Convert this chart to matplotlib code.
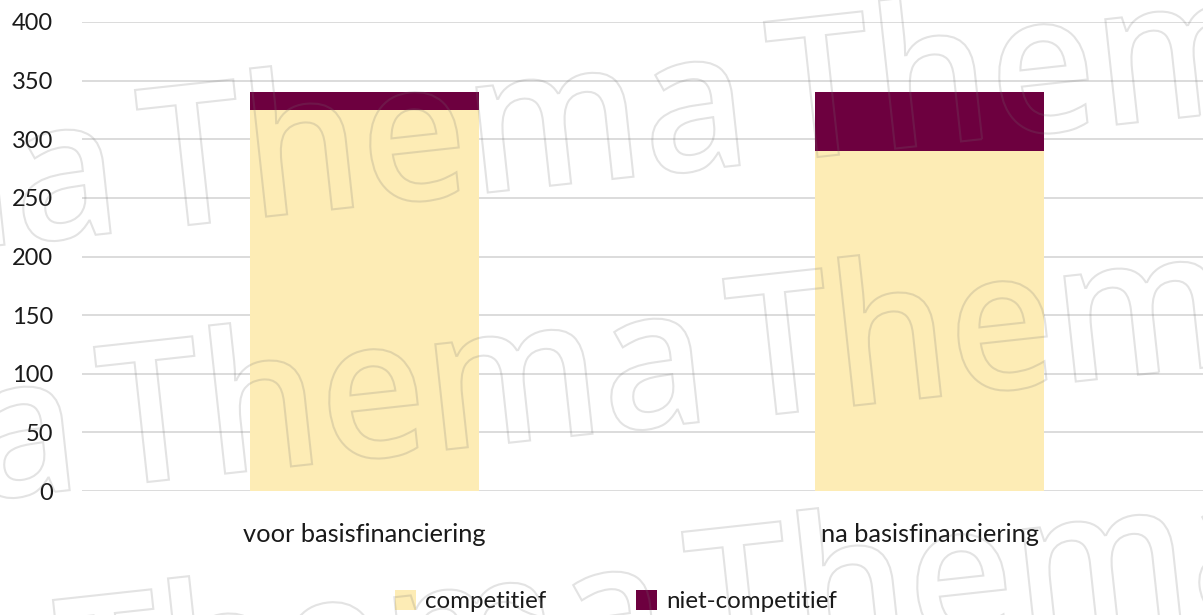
import matplotlib
matplotlib.use("Agg")
import matplotlib.pyplot as plt
from matplotlib.textpath import TextPath
from matplotlib.patches import PathPatch
from matplotlib.font_manager import FontProperties
from matplotlib.transforms import Affine2D, IdentityTransform
import numpy as np

categories = ["voor basisfinanciering", "na basisfinanciering"]
competitief = [325, 290]
niet_competitief = [15, 50]
series_names = ["competitief", "niet-competitief"]
yticks = [0, 50, 100, 150, 200, 250, 300, 350, 400]

W, H = 1203, 615
fig = plt.figure(figsize=(W / 100, H / 100), dpi=100)
ax = fig.add_axes([82 / W, (H - 491) / H, (1212 - 82) / W, (491 - 22) / H])

x = np.arange(len(categories))
bw = 0.404
ax.bar(x, competitief, width=bw, color="#FDECB5", label=series_names[0], zorder=2)
ax.bar(x, niet_competitief, width=bw, bottom=competitief, color="#6D003F",
       label=series_names[1], zorder=2)

ax.set_xlim(-0.5, 1.5)
ax.set_ylim(0, 400)
ax.set_yticks(yticks)
ax.set_yticklabels([str(t) for t in yticks], fontfamily="Lato", fontsize=17, color="#1a1a1a")
ax.set_xticks(x)
ax.set_xticklabels(categories, fontfamily="Lato", fontsize=18.3, color="#1a1a1a")
ax.tick_params(axis="y", length=0, pad=21)
ax.tick_params(axis="x", length=0, pad=23)
ax.grid(axis="y", color="#d9d9d9", linewidth=1.3, zorder=0)
ax.set_axisbelow(True)
for s in ax.spines.values():
    s.set_visible(False)

leg = fig.legend(loc="center", bbox_to_anchor=(616 / W, (H - 601) / H), ncol=2,
                 frameon=False, prop={"family": "Lato", "size": 17.4},
                 handlelength=0.87, handleheight=0.9, handletextpad=0.38,
                 columnspacing=3.7, borderaxespad=0)
for t in leg.get_texts():
    t.set_color("#1a1a1a")

# watermark
fp = FontProperties(family=["Open Sans", "DejaVu Sans"], weight="semibold")
size = 100
theta = 6.2
wm_color = (0.45, 0.45, 0.45, 0.2)
tp_word = TextPath((0, 0), "Thema", size=size, prop=fp)
tp_T = TextPath((0, 0), "T", size=size, prop=fp)
ext = tp_word.get_extents()
extT = tp_T.get_extents()
sx = 593 / ext.width
sy = 140 / extT.y1
base = Affine2D().translate(-extT.x0, -extT.y1).scale(sx, sy).rotate_deg(theta)
rows = [(135, 90), (94, 347), (53, 600)]
period = (629, -68)
for (tx, ty) in rows:
    for k in range(-2, 3):
        cx = tx + k * period[0]
        cy = ty + k * period[1]
        tr = base + Affine2D().translate(cx, H - cy)
        patch = PathPatch(tr.transform_path(tp_word), facecolor="none", edgecolor=wm_color,
                          linewidth=1.5, transform=IdentityTransform(), zorder=10)
        fig.patches.append(patch)

fig.savefig("out.png", dpi=100)
